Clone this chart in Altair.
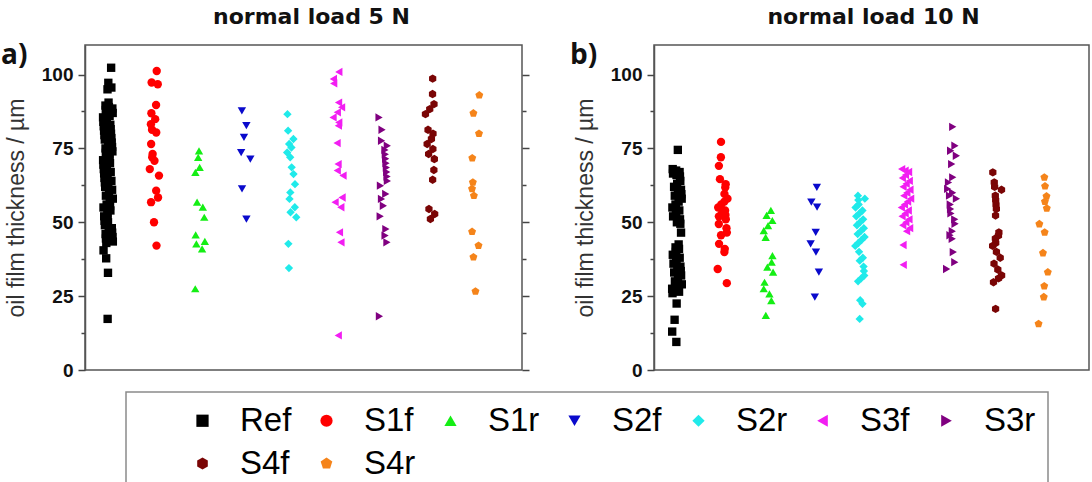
import altair as alt
import pandas as pd

samples = ["Ref", "S1f", "S1r", "S2f", "S2r", "S3f", "S3r", "S4f", "S4r"]
colors = ["#000000", "#FF0000", "#14EE14", "#0A0ACC", "#20EAEA", "#F21EF2",
          "#800080", "#7A0505", "#F5841A"]
hexagon = "M0,-1L0.866,-0.5L0.866,0.5L0,1L-0.866,0.5L-0.866,-0.5Z"
pentagon = "M0,-1L0.951,-0.309L0.588,0.809L-0.588,0.809L-0.951,-0.309Z"
shapes = ["square", "circle", "triangle-up", "triangle-down", "diamond",
          "triangle-left", "triangle-right", hexagon, pentagon]

# normal load 5 N
ref5 = [102.3, 97.2, 95.6, 95, 90.5, 89.5, 89, 88.5, 88, 87.5, 87, 86.5, 86, 85.5, 85, 84,
        83.5, 83, 82.5, 82, 81.5, 81, 80.5, 80, 79.5, 79, 78.5, 78, 77.5, 77, 76, 75.5, 75,
        74, 73.5, 73, 72, 71.5, 71, 70, 69.5, 69, 68, 67, 66.5, 66, 65, 64, 63.5, 63, 62,
        61, 60, 59, 58, 57, 56, 55.5, 55, 54, 53, 52, 51.5, 50.5, 50, 49, 48, 47, 46.5, 46,
        45, 44.5, 44, 43.5, 43, 40.5, 37.8, 32.9, 17.3]
s1f5 = [101.2, 97.3, 96.7, 89.7, 86.9, 84.9, 83.2, 81.3, 80.4, 76.5, 73.1, 72, 70.8, 68,
        65.8, 60.7, 58.4, 56.8, 50, 42.1]
s1r5 = [74.2, 72, 68.6, 66.9, 56.8, 55.1, 51.7, 45.7, 43.5, 42.7, 41, 27.5]
s2f5 = [87.7, 82.7, 78.7, 73.6, 71.4, 61.3, 51.1]
s2r5 = [86.6, 81, 78.2, 76.5, 75.3, 73.6, 72, 68.6, 66.3, 62.9, 60.1, 57.9, 55.1, 53.4,
        51.7, 42.7, 34.5]
s3f5 = [100.9, 98.5, 97, 90.5, 88.9, 87.2, 85.5, 83.8, 82.7, 76.8, 69.7, 67.5, 65.8, 58.4,
        56.8, 55.1, 46.6, 43.2, 11.7]
s3r5 = [85.5, 81.3, 77.6, 75.9, 74.5, 73, 71.5, 70, 68.5, 67, 65.5, 64, 62.4, 59.6, 57.9,
        55.6, 52, 47.7, 45.5, 43.2, 18.2]
s4f5 = [98.6, 93.4, 90, 88.3, 86.6, 81.3, 80, 78.2, 76.5, 74.8, 73.1, 71.4, 67.7, 64.4,
        54.5, 52.8, 51.1]
s4r5 = [93, 86.9, 80, 71.7, 63.5, 61.3, 59, 46.8, 42.1, 38.2, 26.6]

# normal load 10 N
ref10 = [74.5, 68, 67.5, 67, 66.5, 66, 65.5, 64, 63, 62, 61, 60, 59.5, 59, 58, 57, 56, 55,
         54.5, 54, 53, 52, 51, 50, 49.5, 46.5, 42.5, 41.5, 41, 40, 39, 38.5, 38, 37, 36, 35,
         34, 33.5, 33, 32, 31, 30, 29, 28, 27.5, 27, 26.5, 26, 22.5, 17, 13, 9.5]
s1f10 = [77.2, 72, 69.1, 64.6, 62.9, 61.8, 59.6, 58, 57, 56, 55, 54, 53, 52.5, 52, 51, 49.4,
         48, 46.5, 45.6, 42.7, 41, 39.9, 34.2, 29.4]
s1r10 = [54, 52.3, 50.6, 48.9, 47.2, 44.9, 38.7, 36.5, 34.8, 33.1, 29.7, 27.5, 25.8, 23.5, 18.5]
s2f10 = [61.8, 56.8, 55.1, 46.6, 42.7, 39.9, 33.1, 24.7]
s2r10 = [59, 58, 57.5, 56, 55, 54, 53, 52, 51, 50, 49, 48, 47, 46, 45, 44, 43, 42, 40, 38,
         37, 35, 33.5, 32, 31, 30, 23.6, 22.4, 17.3]
s3f10 = [68, 67.5, 67, 66, 65, 64, 63, 62, 61, 60, 59, 58, 57, 56, 55, 54, 53, 52, 51, 50,
         49, 48, 47, 42.3, 35.6]
s3r10 = [82.3, 75.9, 74.2, 72.5, 69.7, 65.2, 63.5, 61.3, 60, 59, 58, 56, 54.5, 53, 51, 49.5,
         47, 45.6, 44.4, 39.9, 36.5, 34.2]
s4f10 = [66.9, 63.5, 62, 61, 59, 57.5, 56, 54.5, 52.3, 46.6, 45.5, 44.5, 43, 42, 40, 38, 36,
         34, 32, 31, 29.7, 20.7]
s4r10 = [65.2, 62.2, 58.8, 57, 54.7, 49.4, 46.6, 39.6, 33.1, 28.4, 24.7, 15.6]

load5 = [ref5, s1f5, s1r5, s2f5, s2r5, s3f5, s3r5, s4f5, s4r5]
load10 = [ref10, s1f10, s1r10, s2f10, s2r10, s3f10, s3r10, s4f10, s4r10]

tick_vals = [0, 12.5, 25, 37.5, 50, 62.5, 75, 87.5, 100]


def frame(series):
    rows = [(s, v) for s, vals in zip(samples, series) for v in vals]
    return pd.DataFrame(rows, columns=["sample", "v"])


yscale = alt.Scale(domain=[0, 110], nice=False)
major = "datum.value % 25 === 0"

legend = alt.Legend(
    orient="none", legendX=41, legendY=347, direction="horizontal", columns=7,
    title=" ", titleOrient="left", titleFontSize=8, titlePadding=48,
    symbolSize=150, symbolStrokeWidth=0, symbolOpacity=1,
    labelFont="Liberation Sans", labelFontSize=33, labelColor="#000",
    labelOffset=21, columnPadding=18, rowPadding=9, gridAlign="all",
    padding=12, fillColor="white",
)


def panel(series, title, tag, width, right_ticks, dx):
    base = alt.Chart(frame(series)).transform_calculate(jit="((datum.v * 7.31) % 1) - 0.5")
    pts = base.mark_point(filled=True, opacity=1, size=70, strokeWidth=0).encode(
        x=alt.X("sample:N", sort=samples, scale=alt.Scale(domain=samples, padding=0.5),
                axis=None),
        xOffset=alt.XOffset("jit:Q", scale=alt.Scale(domain=[-0.5, 0.5], range=[-5, 5])),
        y=alt.Y("v:Q", scale=yscale, title="oil film thickness / µm",
                axis=alt.Axis(values=tick_vals, labelExpr=f"{major} ? datum.label : ''",
                              tickSize={"condition": {"test": major, "value": 7}, "value": 4},
                              labelPadding=5, titlePadding=13, grid=False)),
        color=alt.Color("sample:N", scale=alt.Scale(domain=samples, range=colors), legend=legend),
        shape=alt.Shape("sample:N", scale=alt.Scale(domain=samples, range=shapes), legend=legend),
    )
    tagc = alt.Chart(pd.DataFrame({"t": [tag]})).mark_text(
        font="Open Sans", fontSize=28, fontWeight="bold", align="left", baseline="alphabetic",
        color="#111").encode(text="t:N", x=alt.value(-84), y=alt.value(19))
    layers = [pts, tagc]
    if right_ticks:
        rt = base.mark_point(opacity=0).encode(
            y=alt.Y("v:Q", scale=yscale, title=None,
                    axis=alt.Axis(orient="right", values=tick_vals, labels=False, domain=False,
                                  tickSize={"condition": {"test": major, "value": 7}, "value": 4},
                                  grid=False)))
        layers.append(rt)
    ch = alt.layer(*layers)
    if right_ticks:
        ch = ch.resolve_scale(y="independent")
    return ch.properties(
        width=width, height=325,
        title=alt.Title(title, font="DejaVu Sans", fontSize=22, fontWeight="bold", color="#111",
                        anchor="middle", offset=13, dx=dx))


left = panel(load5, "normal load 5 N", "a)", 437, True, 8)
right = panel(load10, "normal load 10 N", "b)", 435, False, 2)

chart = alt.hconcat(left, right, spacing=38).resolve_scale(
    color="shared", shape="shared").properties(
    padding={"left": 0, "top": 5, "right": 0, "bottom": -6}
).configure_view(stroke="#555", strokeWidth=1.5).configure_axis(
    labelFont="Liberation Sans", labelFontSize=19, labelFontWeight="bold", labelColor="#111",
    titleFont="Liberation Sans", titleFontSize=23, titleFontWeight="normal", titleColor="#333",
    tickColor="#444", tickWidth=1.5, domainColor="#555", domainWidth=1.5,
).configure_legend(strokeColor="#8a8a8a", strokeWidth=1.5)

chart.save("out.html", embed_options={"renderer": "svg", "actions": False})
